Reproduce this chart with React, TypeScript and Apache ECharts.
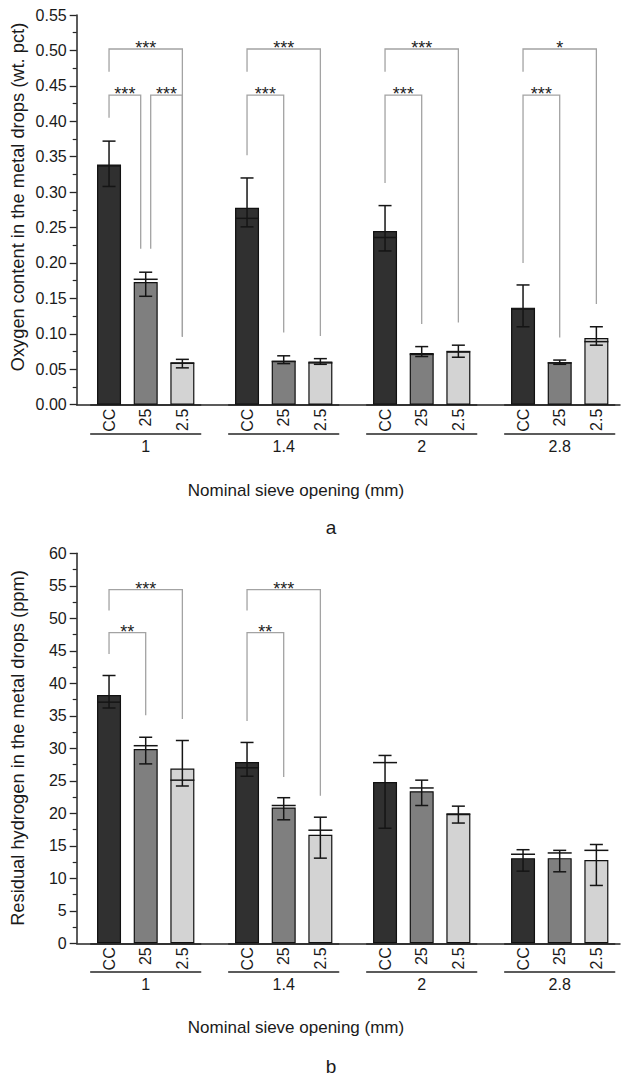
import React, { useEffect, useRef } from 'react';
import * as echarts from 'echarts';

// Categories
const sieveOpenings = ['1', '1.4', '2', '2.8'];
const conditions = ['CC', '25', '2.5'];

// Oxygen content (wt. pct), one row per sieve opening, columns follow `conditions`
const oxygenMean = [
  [0.339, 0.173, 0.059],
  [0.278, 0.062, 0.061],
  [0.245, 0.073, 0.075],
  [0.137, 0.060, 0.094],
];
const oxygenMid = [
  [0.337, 0.177, 0.059],
  [0.263, 0.061, 0.059],
  [0.236, 0.071, 0.075],
  [0.135, 0.059, 0.089],
];
const oxygenLow = [
  [0.308, 0.153, 0.052],
  [0.251, 0.058, 0.057],
  [0.217, 0.068, 0.067],
  [0.110, 0.057, 0.084],
];
const oxygenHigh = [
  [0.372, 0.187, 0.064],
  [0.320, 0.069, 0.065],
  [0.281, 0.082, 0.084],
  [0.169, 0.063, 0.110],
];

// Residual hydrogen (ppm)
const hydrogenMean = [
  [38.2, 29.9, 26.9],
  [27.9, 20.9, 16.7],
  [24.8, 23.4, 19.9],
  [13.1, 13.1, 12.8],
];
const hydrogenMid = [
  [37.1, 30.4, 25.1],
  [27.0, 21.2, 17.4],
  [27.8, 23.9, 19.9],
  [13.7, 13.9, 14.3],
];
const hydrogenLow = [
  [36.2, 27.6, 24.2],
  [25.7, 19.0, 13.1],
  [17.7, 21.2, 18.5],
  [11.1, 11.0, 8.9],
];
const hydrogenHigh = [
  [41.2, 31.7, 31.2],
  [30.9, 22.4, 19.4],
  [28.9, 25.1, 21.1],
  [14.4, 14.3, 15.2],
];

// Significance brackets: [group, fromBar, toBar, bracketLevel, leftLegEnd, rightLegEnd, label]
type Bracket = [number, number, number, number, number, number, string];
const oxygenBrackets: Bracket[] = [
  [0, 0, 2, 0.502, 0.470, 0.096, '***'],
  [0, 0, 1, 0.437, 0.405, 0.220, '***'],
  [0, 1, 2, 0.437, 0.220, 0.096, '***'],
  [1, 0, 2, 0.502, 0.470, 0.097, '***'],
  [1, 0, 1, 0.437, 0.352, 0.102, '***'],
  [2, 0, 2, 0.502, 0.470, 0.116, '***'],
  [2, 0, 1, 0.437, 0.313, 0.114, '***'],
  [3, 0, 2, 0.502, 0.470, 0.142, '*'],
  [3, 0, 1, 0.437, 0.200, 0.095, '***'],
];
const hydrogenBrackets: Bracket[] = [
  [0, 0, 2, 54.4, 51.2, 34.5, '***'],
  [0, 0, 1, 47.8, 44.5, 35.1, '**'],
  [1, 0, 2, 54.4, 51.2, 22.7, '***'],
  [1, 0, 1, 47.8, 34.2, 25.6, '**'],
];

const FONT = "'Liberation Sans', Arial, Helvetica, sans-serif";
const AXIS_COLOR = '#262626';
const TEXT_COLOR = '#1a1a1a';
const BAR_COLORS = ['#303030', '#7f7f7f', '#d3d3d3'];
const BRACKET_COLOR = '#a3a3a3';

const AXIS_X = 76.7;
const RIGHT_EDGE = 620;
const GROUP_LEFT0 = 90.7;
const GROUP_STEP = 138;
const GROUP_WIDTH = 110;

interface Panel {
  top: number;
  height: number;
  max: number;
  interval: number;
  decimals: number;
  mean: number[][];
  mid: number[][];
  low: number[][];
  high: number[][];
  brackets: Bracket[];
}

const panels: Panel[] = [
  {
    top: 15, height: 389.7, max: 0.55, interval: 0.05, decimals: 2,
    mean: oxygenMean, mid: oxygenMid, low: oxygenLow, high: oxygenHigh,
    brackets: oxygenBrackets,
  },
  {
    top: 553.3, height: 390, max: 60, interval: 5, decimals: 0,
    mean: hydrogenMean, mid: hydrogenMid, low: hydrogenLow, high: hydrogenHigh,
    brackets: hydrogenBrackets,
  },
];

function buildOption(): echarts.EChartsOption {
  const grid: any[] = [];
  const xAxis: any[] = [];
  const yAxis: any[] = [];
  const series: any[] = [];

  panels.forEach((p) => {
    // Frame grid carrying the visible value axis and the top border line
    const frameIdx = grid.length;
    grid.push({ left: AXIS_X, top: p.top, width: RIGHT_EDGE - AXIS_X, height: p.height });
    xAxis.push({
      gridIndex: frameIdx, type: 'value', position: 'top', min: 0, max: 1,
      axisLine: { show: true, lineStyle: { color: AXIS_COLOR, width: 1.5 } },
      axisTick: { show: false }, axisLabel: { show: false }, splitLine: { show: false },
    });
    yAxis.push({
      gridIndex: frameIdx, type: 'value', min: 0, max: p.max, interval: p.interval,
      axisLine: { show: true, lineStyle: { color: AXIS_COLOR, width: 1.5 } },
      axisTick: { show: true, inside: false, length: 7, lineStyle: { color: AXIS_COLOR, width: 1.3 } },
      minorTick: { show: true, splitNumber: 2, length: 4, lineStyle: { color: AXIS_COLOR, width: 1.2 } },
      axisLabel: {
        margin: 10, fontSize: 16, color: TEXT_COLOR, fontFamily: FONT,
        formatter: (v: number) => v.toFixed(p.decimals),
      },
      splitLine: { show: false },
    });

    sieveOpenings.forEach((opening, g) => {
      const gi = grid.length;
      grid.push({ left: GROUP_LEFT0 + GROUP_STEP * g, top: p.top, width: GROUP_WIDTH, height: p.height });
      const xi = xAxis.length;
      xAxis.push({
        gridIndex: gi, type: 'category', data: conditions, position: 'bottom',
        axisLine: { show: true, lineStyle: { color: AXIS_COLOR, width: 1.5 } },
        axisTick: { show: false },
        axisLabel: { rotate: 90, margin: 4, fontSize: 16, color: TEXT_COLOR, fontFamily: FONT, interval: 0 },
      });
      xAxis.push({
        gridIndex: gi, type: 'category', data: [opening], position: 'bottom', offset: 28.6,
        axisLine: { show: true, lineStyle: { color: AXIS_COLOR, width: 1.5 } },
        axisTick: { show: false },
        axisLabel: { margin: 5, fontSize: 16, color: TEXT_COLOR, fontFamily: FONT },
      });
      const yi = yAxis.length;
      yAxis.push({ gridIndex: gi, type: 'value', min: 0, max: p.max, show: false });

      series.push({
        type: 'bar', xAxisIndex: xi, yAxisIndex: yi, barWidth: 24,
        data: conditions.map((_, k) => ({
          value: p.mean[g][k],
          itemStyle: { color: BAR_COLORS[k], borderColor: '#111', borderWidth: 1.2 },
        })),
      });

      // Spread line and whiskers drawn on top of each bar
      series.push({
        type: 'custom', xAxisIndex: xi, yAxisIndex: yi, z: 5,
        encode: { x: 0, y: [1, 2, 3] },
        data: conditions.map((_, k) => [k, p.mid[g][k], p.low[g][k], p.high[g][k]]),
        renderItem: (params: any, api: any) => {
          const k = api.value(0);
          const m = api.coord([k, api.value(1)]);
          const lo = api.coord([k, api.value(2)]);
          const hi = api.coord([k, api.value(3)]);
          const x = m[0];
          const st = { stroke: '#151515', lineWidth: 1.5 };
          return {
            type: 'group',
            children: [
              { type: 'line', shape: { x1: x - 12, y1: m[1], x2: x + 12, y2: m[1] }, style: st },
              { type: 'line', shape: { x1: x, y1: lo[1], x2: x, y2: hi[1] }, style: st },
              { type: 'line', shape: { x1: x - 6.5, y1: lo[1], x2: x + 6.5, y2: lo[1] }, style: st },
              { type: 'line', shape: { x1: x - 6.5, y1: hi[1], x2: x + 6.5, y2: hi[1] }, style: st },
            ],
          };
        },
      });

      const groupBrackets = p.brackets.filter((b) => b[0] === g);
      if (groupBrackets.length) {
        // Brackets sharing a middle bar are pulled apart slightly
        const shared = (b: Bracket, bar: number) =>
          groupBrackets.some((o) => o !== b && (o[1] === bar || o[2] === bar) && o[2] - o[1] === 1 && b[2] - b[1] === 1);
        series.push({
          type: 'custom', xAxisIndex: xi, yAxisIndex: yi, z: 3,
          encode: { x: [0, 1], y: [2, 3, 4] },
          data: groupBrackets.map((b) => [b[1], b[2], b[3], b[4], b[5]]),
          renderItem: (params: any, api: any) => {
            const b = groupBrackets[params.dataIndex];
            const nudgeFrom = shared(b, b[1]) ? 5 : 0;
            const nudgeTo = shared(b, b[2]) ? -5 : 0;
            const x1 = api.coord([b[1], b[3]])[0] + nudgeFrom;
            const x2 = api.coord([b[2], b[3]])[0] + nudgeTo;
            const yTop = api.coord([b[1], b[3]])[1];
            const yL = api.coord([b[1], b[4]])[1];
            const yR = api.coord([b[2], b[5]])[1];
            return {
              type: 'group',
              children: [
                {
                  type: 'polyline',
                  shape: { points: [[x1, yL], [x1, yTop], [x2, yTop], [x2, yR]] },
                  style: { stroke: BRACKET_COLOR, lineWidth: 1.3, fill: null },
                },
                {
                  type: 'text', x: (x1 + x2) / 2, y: yTop - 1,
                  style: {
                    text: b[6], fill: '#222', fontSize: 18, fontFamily: FONT,
                    align: 'center', verticalAlign: 'middle',
                  },
                },
              ],
            };
          },
        });
      }
    });
  });

  const titleStyle = { fill: TEXT_COLOR, fontSize: 18.3, fontFamily: FONT, align: 'center', verticalAlign: 'middle' };
  const graphic: any[] = [
    { type: 'text', x: 17, y: 197, rotation: Math.PI / 2, style: { ...titleStyle, text: 'Oxygen content in the metal drops (wt. pct)' } },
    { type: 'text', x: 17, y: 748, rotation: Math.PI / 2, style: { ...titleStyle, text: 'Residual hydrogen in the metal drops (ppm)' } },
    { type: 'text', x: 296, y: 490, style: { ...titleStyle, fontSize: 17, text: 'Nominal sieve opening (mm)' } },
    { type: 'text', x: 296, y: 1027, style: { ...titleStyle, fontSize: 17, text: 'Nominal sieve opening (mm)' } },
    { type: 'text', x: 331, y: 527, style: { ...titleStyle, fontSize: 19, text: 'a' } },
    { type: 'text', x: 331, y: 1066, style: { ...titleStyle, fontSize: 19, text: 'b' } },
  ];

  return {
    animation: false,
    backgroundColor: '#ffffff',
    textStyle: { fontFamily: FONT },
    grid, xAxis, yAxis, series, graphic,
  };
}

export default function App() {
  const ref = useRef<HTMLDivElement>(null);
  useEffect(() => {
    if (!ref.current) return;
    const chart = echarts.init(ref.current, undefined, { renderer: 'svg' });
    chart.setOption(buildOption());
    return () => chart.dispose();
  }, []);
  return (
    <div
      ref={ref}
      style={{ position: 'absolute', left: 0, top: 0, width: 625, height: 1081, background: '#fff' }}
    />
  );
}
